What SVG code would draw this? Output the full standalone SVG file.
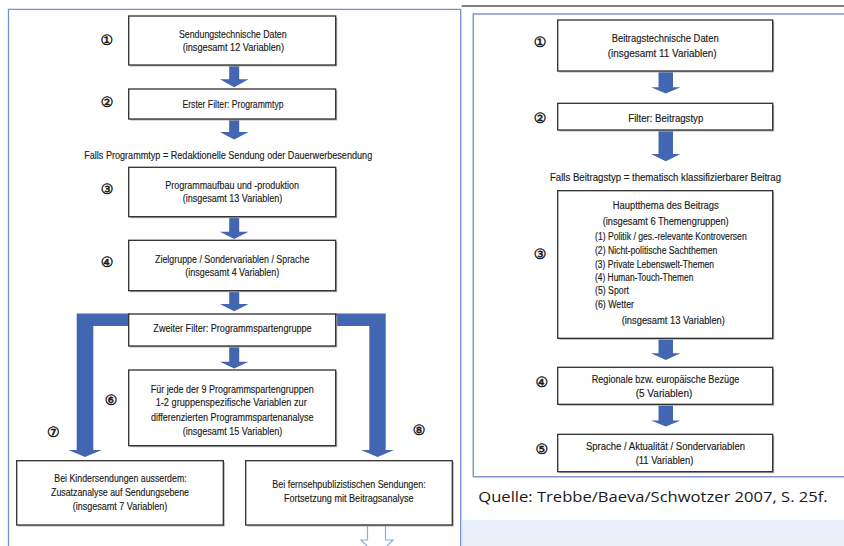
<svg xmlns="http://www.w3.org/2000/svg" width="844" height="546" viewBox="0 0 844 546">
<style>
.bg{fill:#ffffff}
.sh{fill:#b4b4b4}
.box{fill:#ffffff;stroke:#2e2e2e;stroke-width:1.3}
.t{font-family:"Liberation Sans Narrow","Liberation Sans",Arial,sans-serif;font-size:10.5px;fill:#1a1a1a;stroke:#1a1a1a;stroke-width:0.15;text-anchor:middle}
.r{font-size:10px}
.l{text-anchor:start}
.n{font-family:"DejaVu Sans","Noto Sans CJK JP",sans-serif;font-size:14px;fill:#1a1a1a;stroke:#1a1a1a;stroke-width:0.5;text-anchor:middle}
.arr{fill:#4266b2}
.out{fill:#ffffff;stroke:#8eaadb;stroke-width:1.2}
.q{font-family:"Open Sans","Noto Sans","Liberation Sans",sans-serif;font-size:15px;fill:#1a1a1a}
</style>
<rect class="bg" x="0" y="0" width="844" height="546"/>
<g id="frames">
<path d="M8.5,547 V9.3 H460.7 V547" fill="none" stroke="#7191d1" stroke-width="1.3"/>
<path d="M461.7,6 H844" fill="none" stroke="#555" stroke-width="1.6"/>
<path d="M844,14 H473.3 V476.7 H844" fill="none" stroke="#8097cc" stroke-width="1.5"/>
<rect x="462" y="520" width="382" height="26" fill="#e7f0f9"/>
</g>
<g id="connectors">
<polygon class="arr" points="229.2,65 239.2,65 239.2,79.3 248.5,79.3 234.2,87.3 219.9,79.3 229.2,79.3"/>
<polygon class="arr" points="229.2,118.7 239.2,118.7 239.2,132 248.5,132 234.2,139.5 219.9,132 229.2,132"/>
<polygon class="arr" points="229.2,216.7 239.2,216.7 239.2,231.7 248.5,231.7 234.2,239 219.9,231.7 229.2,231.7"/>
<polygon class="arr" points="229.2,290.7 239.2,290.7 239.2,304 248.5,304 234.2,311.3 219.9,304 229.2,304"/>
<polygon class="arr" points="229.2,346 239.2,346 239.2,361.7 248.5,361.7 234.2,368.5 219.9,361.7 229.2,361.7"/>
<polygon class="arr" points="130,313.5 76.7,313.5 76.7,450 68.3,450 85,457 101.7,450 93.3,450 93.3,326 130,326"/>
<polygon class="arr" points="335,313.5 385.7,313.5 385.7,450 394,450 377.5,457 361,450 369.3,450 369.3,326 335,326"/>
<polygon class="out" points="367.5,525.5 367.5,540 361,540 377,556 393,540 385.5,540 385.5,525.5"/>
<polygon class="arr" points="658.5,71 673,71 673,87.3 680.5,87.3 665.8,93.5 651,87.3 658.5,87.3"/>
<polygon class="arr" points="658.5,130 673,130 673,154 680.5,154 665.8,161.3 651,154 658.5,154"/>
<polygon class="arr" points="658.5,338.3 673,338.3 673,353.3 680.5,353.3 665.8,360 651,353.3 658.5,353.3"/>
<polygon class="arr" points="658.5,404.3 673,404.3 673,420.5 680.5,420.5 665.8,426.5 651,420.5 658.5,420.5"/>
</g>
<g id="L1">
<rect class="sh" x="130.2" y="17.5" width="207" height="49"/>
<rect class="box" x="128.7" y="16" width="207" height="49"/>
<text class="t" x="232.8" y="37.5" textLength="107.7" lengthAdjust="spacingAndGlyphs">Sendungstechnische Daten</text>
<text class="t" x="233.3" y="50.5" textLength="101.3" lengthAdjust="spacingAndGlyphs">(insgesamt 12 Variablen)</text>
<text class="n" x="106.7" y="45">①</text>
</g>
<g id="L2">
<rect class="sh" x="130.2" y="90.5" width="207" height="30"/>
<rect class="box" x="128.7" y="89" width="207" height="30"/>
<text class="t" x="233" y="107.5" textLength="101" lengthAdjust="spacingAndGlyphs">Erster Filter: Programmtyp</text>
<text class="n" x="107" y="107">②</text>
</g>
<g id="L_cond">
<text class="t" x="228.2" y="158.5" textLength="288" lengthAdjust="spacingAndGlyphs">Falls Programmtyp = Redaktionelle Sendung oder Dauerwerbesendung</text>
</g>
<g id="L3">
<rect class="sh" x="130.2" y="168.8" width="207" height="49.4"/>
<rect class="box" x="128.7" y="167.3" width="207" height="49.4"/>
<text class="t" x="232.2" y="189.2" textLength="133.7" lengthAdjust="spacingAndGlyphs">Programmaufbau und -produktion</text>
<text class="t" x="232.5" y="202.2" textLength="99.7" lengthAdjust="spacingAndGlyphs">(insgesamt 13 Variablen)</text>
<text class="n" x="107" y="194">③</text>
</g>
<g id="L4">
<rect class="sh" x="130.2" y="241.8" width="207" height="50.4"/>
<rect class="box" x="128.7" y="240.3" width="207" height="50.4"/>
<text class="t" x="232.2" y="262.5" textLength="154.3" lengthAdjust="spacingAndGlyphs">Zielgruppe / Sondervariablen / Sprache</text>
<text class="t" x="232.3" y="275.8" textLength="94" lengthAdjust="spacingAndGlyphs">(insgesamt 4 Variablen)</text>
<text class="n" x="107" y="267.3">④</text>
</g>
<g id="L5">
<rect class="sh" x="130.2" y="315.5" width="207" height="32"/>
<rect class="box" x="128.7" y="314" width="207" height="32"/>
<text class="t" x="232.5" y="331.8" textLength="158.3" lengthAdjust="spacingAndGlyphs">Zweiter Filter: Programmspartengruppe</text>
</g>
<g id="L6">
<rect class="sh" x="130.2" y="371.5" width="207" height="75.7"/>
<rect class="box" x="128.7" y="370" width="207" height="75.7"/>
<text class="t" x="232.2" y="392.8" textLength="163" lengthAdjust="spacingAndGlyphs">Für jede der 9 Programmspartengruppen</text>
<text class="t" x="231.2" y="406.3" textLength="151" lengthAdjust="spacingAndGlyphs">1-2 gruppenspezifische Variablen zur</text>
<text class="t" x="232.3" y="420.8" textLength="162.7" lengthAdjust="spacingAndGlyphs">differenzierten Programmspartenanalyse</text>
<text class="t" x="232.5" y="435.2" textLength="99.7" lengthAdjust="spacingAndGlyphs">(insgesamt 15 Variablen)</text>
<text class="n" x="111" y="405">⑥</text>
</g>
<g id="L7">
<rect class="sh" x="18.2" y="462.2" width="206.6" height="64.3"/>
<rect class="box" x="16.7" y="460.7" width="206.6" height="64.3"/>
<text class="t" x="120.5" y="481.8" textLength="132.3" lengthAdjust="spacingAndGlyphs">Bei Kindersendungen ausserdem:</text>
<text class="t" x="120" y="496.2" textLength="138" lengthAdjust="spacingAndGlyphs">Zusatzanalyse auf Sendungsebene</text>
<text class="t" x="120" y="510.2" textLength="94.7" lengthAdjust="spacingAndGlyphs">(insgesamt 7 Variablen)</text>
<text class="n" x="53.3" y="437.3">⑦</text>
</g>
<g id="L8">
<rect class="sh" x="247.2" y="462.2" width="206.6" height="64.3"/>
<rect class="box" x="245.7" y="460.7" width="206.6" height="64.3"/>
<text class="t" x="349" y="487.5" textLength="153.3" lengthAdjust="spacingAndGlyphs">Bei fernsehpublizistischen Sendungen:</text>
<text class="t" x="348.8" y="501.5" textLength="129.7" lengthAdjust="spacingAndGlyphs">Fortsetzung mit Beitragsanalyse</text>
<text class="n" x="419" y="435">⑧</text>
</g>
<g id="R1">
<rect class="sh" x="559.2" y="21.5" width="215" height="51"/>
<rect class="box" x="557.7" y="20" width="215" height="51"/>
<text class="t r" x="665.2" y="41.5" textLength="107" lengthAdjust="spacingAndGlyphs">Beitragstechnische Daten</text>
<text class="t r" x="662.2" y="56.8" textLength="109" lengthAdjust="spacingAndGlyphs">(insgesamt 11 Variablen)</text>
<text class="n" x="540" y="46.7">①</text>
</g>
<g id="R2">
<rect class="sh" x="559.2" y="104.8" width="215" height="26.7"/>
<rect class="box" x="557.7" y="103.3" width="215" height="26.7"/>
<text class="t r" x="665.8" y="122" textLength="75" lengthAdjust="spacingAndGlyphs">Filter: Beitragstyp</text>
<text class="n" x="540" y="123">②</text>
</g>
<g id="R_cond">
<text class="t r" x="665.5" y="180.8" textLength="231" lengthAdjust="spacingAndGlyphs">Falls Beitragstyp = thematisch klassifizierbarer Beitrag</text>
</g>
<g id="R3">
<rect class="sh" x="559.2" y="192.2" width="215" height="147.6"/>
<rect class="box" x="557.7" y="190.7" width="215" height="147.6"/>
<text class="t r" x="665.7" y="208.5" textLength="106" lengthAdjust="spacingAndGlyphs">Hauptthema des Beitrags</text>
<text class="t r" x="665.7" y="224.5" textLength="126" lengthAdjust="spacingAndGlyphs">(insgesamt 6 Themengruppen)</text>
<text class="t r l" x="595" y="240.2" textLength="151.7" lengthAdjust="spacingAndGlyphs">(1) Politik / ges.-relevante Kontroversen</text>
<text class="t r l" x="595" y="253.8" textLength="122.3" lengthAdjust="spacingAndGlyphs">(2) Nicht-politische Sachthemen</text>
<text class="t r l" x="595" y="267.5" textLength="119" lengthAdjust="spacingAndGlyphs">(3) Private Lebenswelt-Themen</text>
<text class="t r l" x="595" y="280.8" textLength="98.3" lengthAdjust="spacingAndGlyphs">(4) Human-Touch-Themen</text>
<text class="t r l" x="595" y="294.2" textLength="34" lengthAdjust="spacingAndGlyphs">(5) Sport</text>
<text class="t r l" x="595" y="307.5" textLength="39" lengthAdjust="spacingAndGlyphs">(6) Wetter</text>
<text class="t r" x="673.3" y="324.2" textLength="103.3" lengthAdjust="spacingAndGlyphs">(insgesamt 13 Variablen)</text>
<text class="n" x="540" y="259">③</text>
</g>
<g id="R4">
<rect class="sh" x="559.2" y="368.8" width="215" height="37"/>
<rect class="box" x="557.7" y="367.3" width="215" height="37"/>
<text class="t r" x="665.5" y="382.8" textLength="147.7" lengthAdjust="spacingAndGlyphs">Regionale bzw. europäische Bezüge</text>
<text class="t r" x="664" y="396.8" textLength="56.7" lengthAdjust="spacingAndGlyphs">(5 Variablen)</text>
<text class="n" x="541.7" y="386.7">④</text>
</g>
<g id="R5">
<rect class="sh" x="559.2" y="435.8" width="215" height="37.4"/>
<rect class="box" x="557.7" y="434.3" width="215" height="37.4"/>
<text class="t r" x="665.5" y="450.2" textLength="159" lengthAdjust="spacingAndGlyphs">Sprache / Aktualität / Sondervariablen</text>
<text class="t r" x="664.5" y="464.2" textLength="57.7" lengthAdjust="spacingAndGlyphs">(11 Variablen)</text>
<text class="n" x="541.7" y="454.3">⑤</text>
</g>
<g id="source">
<text class="q" x="478.3" y="502" textLength="349.4" lengthAdjust="spacingAndGlyphs">Quelle: Trebbe/Baeva/Schwotzer 2007, S. 25f.</text>
</g>
</svg>
